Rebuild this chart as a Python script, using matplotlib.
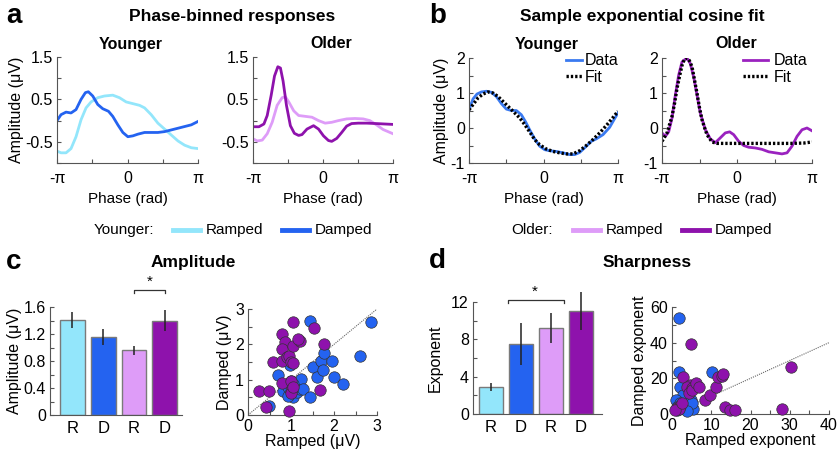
import numpy as np
import matplotlib
matplotlib.use("Agg")
import matplotlib.pyplot as plt
from matplotlib.lines import Line2D

plt.rcParams['font.family'] = ['Liberation Sans', 'DejaVu Sans']
plt.rcParams['axes.unicode_minus'] = False

# ---------------- data (phase in units of pi) ----------------
# a: phase-binned responses, younger
ya_damp_ph = [-1, -0.943, -0.872, -0.801, -0.730, -0.659, -0.597, -0.555, -0.493, -0.422, -0.351,
              -0.270, -0.209, -0.137, -0.066, 0.005, 0.076, 0.147, 0.242, 0.336, 0.431, 0.526,
              0.621, 0.716, 0.810, 0.905, 1.0]
ya_damp = [0.0, 0.14, 0.2, 0.18, 0.26, 0.5, 0.66, 0.68, 0.58, 0.38, 0.28, 0.22, 0.1, -0.1, -0.28,
           -0.38, -0.36, -0.32, -0.28, -0.28, -0.28, -0.26, -0.22, -0.18, -0.14, -0.1, -0.02]
ya_ramp_ph = [-1, -0.943, -0.872, -0.801, -0.730, -0.659, -0.588, -0.517, -0.422, -0.327, -0.209,
              -0.114, -0.019, 0.076, 0.171, 0.242, 0.336, 0.431, 0.526, 0.621, 0.716, 0.810,
              0.905, 1.0]
ya_ramp = [-0.72, -0.76, -0.76, -0.66, -0.38, 0.02, 0.3, 0.44, 0.54, 0.58, 0.6, 0.54, 0.44, 0.4,
           0.36, 0.3, 0.14, -0.06, -0.2, -0.34, -0.48, -0.58, -0.64, -0.66]

# a: older
oa_damp_ph = [-1, -0.915, -0.844, -0.797, -0.740, -0.693, -0.645, -0.608, -0.570, -0.522, -0.466,
              -0.409, -0.348, -0.300, -0.229, -0.135, -0.064, 0.007, 0.078, 0.125, 0.196, 0.267,
              0.338, 0.409, 0.504, 0.622, 0.764, 0.882, 1.0]
oa_damp = [-0.145, -0.145, -0.08, 0.12, 0.6, 1.05, 1.27, 1.24, 0.93, 0.36, -0.12, -0.3, -0.35,
           -0.33, -0.2, -0.12, -0.2, -0.36, -0.47, -0.49, -0.42, -0.28, -0.13, -0.07, -0.06,
           -0.06, -0.07, -0.08, -0.09]
oa_ramp_ph = [-1, -0.939, -0.868, -0.797, -0.726, -0.655, -0.584, -0.537, -0.489, -0.418, -0.348,
              -0.253, -0.158, -0.064, 0.031, 0.125, 0.220, 0.338, 0.456, 0.574, 0.669, 0.764,
              0.858, 1.0]
oa_ramp = [-0.43, -0.48, -0.46, -0.31, -0.04, 0.36, 0.54, 0.56, 0.44, 0.23, 0.12, 0.1, 0.08, 0.0,
           -0.06, -0.04, 0.0, 0.04, 0.05, 0.04, 0.0, -0.1, -0.21, -0.31]

# b: sample fits, younger
yb_data_ph = [-1, -0.946, -0.893, -0.834, -0.767, -0.700, -0.633, -0.566, -0.499, -0.432, -0.365,
              -0.298, -0.239, -0.186, -0.119, -0.051, 0.016, 0.083, 0.172, 0.262, 0.351, 0.418,
              0.485, 0.575, 0.642, 0.709, 0.799, 0.888, 0.955, 1.0]
yb_data = [0.52, 0.83, 0.97, 1.03, 1.05, 1.02, 0.9, 0.7, 0.54, 0.5, 0.5, 0.38, 0.17, -0.05, -0.31,
           -0.52, -0.62, -0.65, -0.67, -0.71, -0.76, -0.76, -0.7, -0.52, -0.38, -0.31, -0.19,
           0.02, 0.27, 0.43]
yb_fit_ph = [-1, -0.946, -0.879, -0.812, -0.745, -0.678, -0.611, -0.544, -0.477, -0.410, -0.320,
             -0.253, -0.186, -0.119, -0.051, 0.038, 0.128, 0.217, 0.307, 0.396, 0.485, 0.575,
             0.664, 0.754, 0.843, 0.933, 1.0]
yb_fit = [0.52, 0.67, 0.86, 0.97, 1.03, 1.0, 0.9, 0.76, 0.62, 0.48, 0.29, 0.1, -0.11, -0.33,
          -0.48, -0.6, -0.67, -0.71, -0.74, -0.74, -0.65, -0.5, -0.33, -0.14, 0.07, 0.3, 0.48]

# b: older
ob_data_ph = [-1, -0.956, -0.911, -0.867, -0.822, -0.778, -0.733, -0.667, -0.622, -0.578, -0.533,
              -0.489, -0.422, -0.356, -0.289, -0.222, -0.156, -0.098, -0.044, 0.022, 0.089,
              0.156, 0.244, 0.333, 0.422, 0.511, 0.6, 0.667, 0.733, 0.8, 0.867, 0.933, 1.0]
ob_data = [-0.14, -0.24, -0.11, 0.28, 0.94, 1.51, 1.89, 2.0, 1.84, 1.46, 0.94, 0.42, -0.05, -0.31,
           -0.42, -0.28, -0.14, -0.11, -0.19, -0.38, -0.5, -0.55, -0.57, -0.61, -0.68, -0.71,
           -0.74, -0.71, -0.52, -0.24, -0.05, 0.0, -0.08]
ob_fit_ph = [-1, -0.933, -0.867, -0.831, -0.8, -0.764, -0.733, -0.702, -0.667, -0.636, -0.6,
             -0.569, -0.533, -0.502, -0.467, -0.436, -0.4, -0.333, -0.267, -0.133, 0.044, 0.267,
             0.489, 0.711, 0.889, 1.0]
ob_fit = [-0.38, -0.14, 0.33, 0.72, 1.13, 1.5, 1.79, 1.96, 2.0, 1.93, 1.75, 1.4, 0.99, 0.6, 0.24,
          0.03, -0.19, -0.4, -0.44, -0.44, -0.44, -0.44, -0.44, -0.44, -0.43, -0.4]

# c / d: bar summaries (R young, D young, R old, D old)
bar_labels = ['R', 'D', 'R', 'D']
amp_mean = [1.41, 1.16, 0.96, 1.40]
amp_sem = [0.12, 0.12, 0.065, 0.15]
exp_mean = [2.88, 7.55, 9.25, 11.03]
exp_sem = [0.45, 2.25, 1.6, 2.0]

# c: amplitude scatter (ramped, damped)
amp_y_r = [0.49, 0.69, 0.82, 0.97, 1.01, 1.05, 0.94, 1.13, 1.21, 1.23, 1.29, 1.44, 1.44, 1.52,
           1.61, 1.69, 1.75, 1.77, 1.95, 1.99, 2.2, 2.61, 2.86, 1.04, 0.94]
amp_y_d = [0.26, 1.14, 0.69, 1.42, 0.97, 0.5, 0.55, 0.64, 0.74, 1.02, 0.73, 0.52, 2.65, 1.35,
           1.08, 1.54, 1.27, 1.75, 1.54, 1.08, 0.88, 1.67, 2.64, 0.88, 0.78]
amp_o_r = [0.25, 0.49, 0.41, 0.58, 0.78, 0.86, 0.8, 0.8, 0.9, 0.96, 0.99, 1.05, 1.05, 1.04, 1.2,
           1.17, 1.54, 1.77, 1.68, 0.78, 0.99, 1.01, 0.96, 1.01, 1.05]
amp_o_d = [0.67, 0.67, 0.22, 1.49, 2.29, 2.08, 1.87, 1.54, 1.63, 1.68, 1.51, 1.46, 1.96, 2.62, 2.1,
           2.15, 2.46, 2.01, 0.71, 0.9, 0.95, 0.69, 0.1, 0.61, 0.78]

# d: exponent scatter (ramped, damped)
exp_y_r = [1.66, 1.66, 10.2, 2.07, 2.9, 1.08, 2.07, 3.1, 4.4, 5.4, 4.8, 5.1, 3.7, 1.2, 1.4]
exp_y_d = [54.1, 23.4, 23.4, 15.1, 10.8, 8.0, 6.1, 5.2, 3.3, 2.8, 8.0, 6.1, 1.5, 2.4, 3.9]
exp_o_r = [4.8, 2.9, 4.5, 3.7, 5.0, 4.4, 5.2, 6.2, 7.0, 8.5, 9.8, 11.3, 11.8, 12.8, 13.1, 13.5,
           14.9, 16.1, 27.9, 30.2, 1.2, 2.1, 1.7, 0.8, 2.5]
exp_o_d = [39, 20.6, 16.4, 15.4, 14.5, 11.7, 13.6, 17.3, 15.4, 8.0, 10.8, 15.4, 20.6, 21.4, 22.5,
           3.9, 2.4, 2.0, 2.8, 26.6, 3.3, 4.3, 2.8, 2.0, 6.1]

# ---------------- colours ----------------
c_ramp_y = '#93e6fb'
c_damp_y = '#2463f0'
c_ramp_o = '#de9cf8'
c_damp_o = '#8e12ac'
c_data_y = '#3a7af0'
c_data_o = '#9a22bf'
c_axis = '#555555'

W, H = 839.0, 453.0
TICK = 11.5


def fx(x):
    return x / W


def fy(y):
    return 1 - y / H


def style(ax):
    for s in ['top', 'right']:
        ax.spines[s].set_visible(False)
    for s in ['left', 'bottom']:
        ax.spines[s].set_color(c_axis)
        ax.spines[s].set_linewidth(0.8)
    ax.tick_params(direction='in', length=3, width=0.8, color=c_axis, labelsize=TICK, pad=3)


def phase_axes(x0, x1, y0, y1, ylim, yticks, ylabels):
    ax = fig.add_axes([fx(x0), fy(y1), fx(x1 - x0), (y1 - y0) / H])
    style(ax)
    ax.set_xlim(-np.pi, np.pi)
    ax.set_xticks(np.pi * np.array([-1, -0.5, 0, 0.5, 1]))
    ax.set_xticklabels(['-π', '', '0', '', 'π'])
    ax.tick_params(axis='x', pad=6)
    ax.set_ylim(ylim)
    ax.set_yticks(yticks)
    ax.set_yticklabels(ylabels)
    ax.set_xlabel('Phase (rad)', fontsize=11, labelpad=4)
    return ax


fig = plt.figure(figsize=(8.39, 4.53), dpi=100, facecolor='white')

# ---------------- panel a ----------------
a_ticks = [-1, -0.5, 0, 0.5, 1, 1.5]
a_labels = ['', '-0.5', '', '0.5', '', '1.5']
ax = phase_axes(57, 198, 57, 163, (-1, 1.5), a_ticks, a_labels)
ax.plot(np.pi * np.array(ya_ramp_ph), ya_ramp, color=c_ramp_y, lw=2)
ax.plot(np.pi * np.array(ya_damp_ph), ya_damp, color=c_damp_y, lw=2)
ax.set_ylabel('Amplitude (μV)', fontsize=11.5, labelpad=1)

ax = phase_axes(253, 393, 57, 163, (-1, 1.5), a_ticks, a_labels)
ax.plot(np.pi * np.array(oa_ramp_ph), oa_ramp, color=c_ramp_o, lw=2)
ax.plot(np.pi * np.array(oa_damp_ph), oa_damp, color=c_damp_o, lw=2)

# ---------------- panel b ----------------
b_ticks = [-1, -0.5, 0, 0.5, 1, 1.5, 2]
b_labels = ['-1', '', '0', '', '1', '', '2']
ax = phase_axes(469, 618, 58, 163, (-1, 2), b_ticks, b_labels)
ax.plot(np.pi * np.array(yb_data_ph), yb_data, color=c_data_y, lw=2, label='Data')
ax.plot(np.pi * np.array(yb_fit_ph), yb_fit, color='black', lw=2.4, ls=(0, (0.7, 0.6)), label='Fit')
ax.set_ylabel('Amplitude (μV)', fontsize=11.5, labelpad=1)
ax.legend(loc='upper right', bbox_to_anchor=(1.06, 1.12), frameon=False, fontsize=11.5,
          handlelength=1.0, handletextpad=0.2, labelspacing=0.1, borderpad=0)

ax = phase_axes(662, 812, 58, 163, (-1, 2), b_ticks, b_labels)
ax.plot(np.pi * np.array(ob_data_ph), ob_data, color=c_data_o, lw=2, label='Data')
ax.plot(np.pi * np.array(ob_fit_ph), ob_fit, color='black', lw=2.4, ls=(0, (0.7, 0.6)), label='Fit')
ax.legend(loc='upper right', bbox_to_anchor=(1.02, 1.12), frameon=False, fontsize=11.5,
          handlelength=1.6, handletextpad=0.3, labelspacing=0.1, borderpad=0)

# ---------------- legend row ----------------
ly = fy(230)
fig.text(fx(94), ly, 'Younger:', fontsize=11, va='center')
fig.add_artist(Line2D([fx(173), fx(200)], [ly, ly], color=c_ramp_y, lw=3.5))
fig.text(fx(206), ly, 'Ramped', fontsize=11, va='center')
fig.add_artist(Line2D([fx(282), fx(309)], [ly, ly], color=c_damp_y, lw=3.5))
fig.text(fx(315), ly, 'Damped', fontsize=11, va='center')
fig.text(fx(511), ly, 'Older:', fontsize=11, va='center')
fig.add_artist(Line2D([fx(573), fx(600)], [ly, ly], color=c_ramp_o, lw=3.5))
fig.text(fx(606), ly, 'Ramped', fontsize=11, va='center')
fig.add_artist(Line2D([fx(682), fx(709)], [ly, ly], color=c_damp_o, lw=3.5))
fig.text(fx(715), ly, 'Damped', fontsize=11, va='center')

# ---------------- panel c ----------------
bar_colors = [c_ramp_y, c_damp_y, c_ramp_o, c_damp_o]
pos = np.arange(1, 5)

ax = fig.add_axes([fx(50), fy(415), fx(132), 108 / H])
style(ax)
ax.bar(pos, amp_mean, width=0.8, color=bar_colors, edgecolor='#7a7a7a', linewidth=1)
ax.vlines(pos, np.array(amp_mean) - amp_sem, np.array(amp_mean) + amp_sem, color='#222222', lw=1.1,
          clip_on=False)
ax.set_xlim(0.27, 4.56)
ax.set_ylim(0, 1.6)
ax.set_yticks(np.arange(0, 1.61, 0.2))
ax.set_yticklabels(['0', '', '0.4', '', '0.8', '', '1.2', '', '1.6'])
ax.set_xticks(pos)
ax.set_xticklabels(bar_labels, fontsize=12)
ax.tick_params(axis='x', length=0, pad=4)
ax.set_ylabel('Amplitude (μV)', fontsize=11.5, labelpad=1)
ax.plot([3, 3, 4, 4], [1.81, 1.85, 1.85, 1.81], color='#333333', lw=0.9, clip_on=False)
ax.text(3.5, 1.87, '*', ha='center', va='bottom', fontsize=11)

ax = fig.add_axes([fx(248), fy(415), fx(129), 106 / H])
style(ax)
ax.axline((0, 0), slope=1, color='#666666', lw=0.8, ls=(0, (1, 1)))
ax.scatter(amp_y_r, amp_y_d, s=68, color=c_damp_y, edgecolor='#333333', linewidth=0.5,
           clip_on=False, zorder=3)
ax.scatter(amp_o_r, amp_o_d, s=68, color=c_damp_o, edgecolor='#333333', linewidth=0.5,
           clip_on=False, zorder=3)
ax.set_xlim(0, 3)
ax.set_ylim(0, 3)
ax.set_xticks(np.arange(0, 3.01, 0.5))
ax.set_xticklabels(['0', '', '1', '', '2', '', '3'])
ax.set_yticks(np.arange(0, 3.01, 0.5))
ax.set_yticklabels(['0', '', '1', '', '2', '', '3'])
ax.set_xlabel('Ramped (μV)', fontsize=11.5, labelpad=0)
ax.set_ylabel('Damped (μV)', fontsize=11.5, labelpad=2)

# ---------------- panel d ----------------
ax = fig.add_axes([fx(473), fy(414), fx(129), 112 / H])
style(ax)
ax.bar(pos, exp_mean, width=0.8, color=bar_colors, edgecolor='#7a7a7a', linewidth=1)
ax.vlines(pos, np.array(exp_mean) - exp_sem, np.array(exp_mean) + exp_sem, color='#222222', lw=1.1,
          clip_on=False)
ax.set_xlim(0.4, 4.7)
ax.set_ylim(0, 12)
ax.set_yticks(np.arange(0, 12.1, 2))
ax.set_yticklabels(['0', '', '4', '', '8', '', '12'])
ax.set_xticks(pos)
ax.set_xticklabels(bar_labels, fontsize=12)
ax.tick_params(axis='x', length=0, pad=4)
ax.set_ylabel('Exponent', fontsize=11.5, labelpad=6)
ax.plot([1.55, 1.55, 3.42, 3.42], [11.9, 12.2, 12.2, 11.9], color='#333333', lw=0.9, clip_on=False)
ax.text(2.45, 12.3, '*', ha='center', va='bottom', fontsize=11)

ax = fig.add_axes([fx(672), fy(414), fx(157), 107 / H])
style(ax)
ax.axline((0, 0), slope=1, color='#666666', lw=0.8, ls=(0, (1, 1)))
ax.scatter(exp_y_r, exp_y_d, s=68, color=c_damp_y, edgecolor='#333333', linewidth=0.5,
           clip_on=False, zorder=3)
ax.scatter(exp_o_r, exp_o_d, s=68, color=c_damp_o, edgecolor='#333333', linewidth=0.5,
           clip_on=False, zorder=3)
ax.set_xlim(0, 40)
ax.set_ylim(0, 60)
ax.set_xticks(np.arange(0, 41, 5))
ax.set_xticklabels(['0', '', '10', '', '20', '', '30', '', '40'])
ax.set_yticks(np.arange(0, 61, 10))
ax.set_yticklabels(['0', '', '20', '', '40', '', '60'])
ax.set_xlabel('Ramped exponent', fontsize=11.5, labelpad=0)
ax.set_ylabel('Damped exponent', fontsize=11.5, labelpad=2)

# ---------------- titles and panel letters ----------------
for x, y, s in [(14, 16, 'a'), (438, 16, 'b'), (14, 262, 'c'), (437, 261, 'd')]:
    fig.text(fx(x), fy(y), s, fontsize=20, fontweight='bold', ha='center', va='center')
for x, y, s in [(232, 16, 'Phase-binned responses'), (642, 16, 'Sample exponential cosine fit'),
                (193, 263, 'Amplitude'), (647, 263, 'Sharpness')]:
    fig.text(fx(x), fy(y), s, fontsize=12.5, fontweight='bold', ha='center', va='center')
for x, s in [(131, 'Younger'), (331, 'Older'), (547, 'Younger'), (736, 'Older')]:
    fig.text(fx(x), fy(44), s, fontsize=11.5, fontweight='bold', ha='center', va='center')

fig.savefig('out.png', dpi=100, facecolor='white')
